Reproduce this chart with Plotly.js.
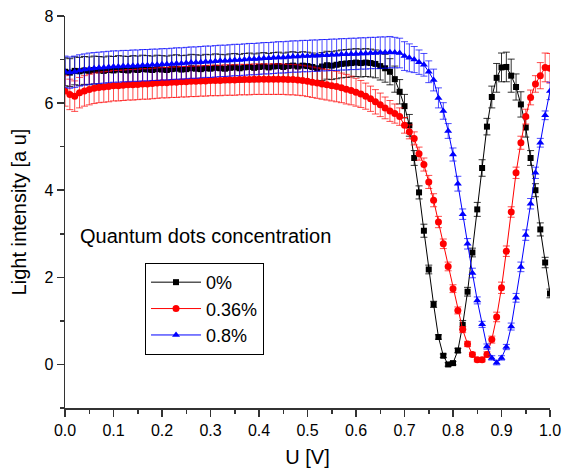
<!DOCTYPE html>
<html>
<head>
<meta charset="utf-8">
<script src="https://cdn.plot.ly/plotly-3.0.1.min.js"></script>
<style>html,body{margin:0;padding:0;background:#fff;}#chart{width:563px;height:472px;}</style>
</head>
<body>
<div id="chart"></div>
<script>
var U = [0.00,0.01,0.02,0.03,0.04,0.05,0.06,0.07,0.08,0.09,0.10,0.11,0.12,0.13,0.14,0.15,0.16,0.17,0.18,0.19,0.20,
0.21,0.22,0.23,0.24,0.25,0.26,0.27,0.28,0.29,0.30,0.31,0.32,0.33,0.34,0.35,0.36,0.37,0.38,0.39,0.40,
0.41,0.42,0.43,0.44,0.45,0.46,0.47,0.48,0.49,0.50,0.51,0.52,0.53,0.54,0.55,0.56,0.57,0.58,0.59,0.60,
0.61,0.62,0.63,0.64,0.65,0.66,0.67,0.68,0.69,0.70,0.71,0.72,0.73,0.74,0.75,0.76,0.77,0.78,0.79,0.80,
0.81,0.82,0.83,0.84,0.85,0.86,0.87,0.88,0.89,0.90,0.91,0.92,0.93,0.94,0.95,0.96,0.97,0.98,0.99,1.00];

var seriesNames = ["0%", "0.36%", "0.8%"];

var black = [6.72,6.70,6.74,6.73,6.75,6.74,6.76,6.75,6.74,6.76,6.75,
6.77,6.76,6.75,6.77,6.76,6.78,6.77,6.76,6.78,6.77,
6.76,6.78,6.79,6.77,6.78,6.80,6.79,6.78,6.80,6.79,
6.81,6.80,6.79,6.81,6.82,6.80,6.82,6.83,6.81,6.83,
6.84,6.82,6.84,6.85,6.83,6.85,6.86,6.84,6.86,6.85,
6.83,6.80,6.84,6.87,6.86,6.88,6.90,6.91,6.92,6.93,
6.92,6.93,6.92,6.90,6.85,6.80,6.72,6.55,6.26,5.93,
5.49,4.74,3.95,3.07,2.18,1.38,0.63,0.20,0.00,0.03,
0.32,0.91,1.67,2.57,3.56,4.51,5.46,6.14,6.58,6.82,
6.83,6.63,6.37,5.97,5.44,4.74,4.00,3.10,2.34,1.63];

var blackErr = [0.32,0.32,0.32,0.32,0.32,0.32,0.32,0.32,0.32,0.32,0.32,
0.32,0.32,0.32,0.32,0.32,0.32,0.32,0.32,0.32,0.32,
0.32,0.32,0.32,0.32,0.32,0.32,0.32,0.32,0.32,0.32,
0.32,0.32,0.32,0.32,0.32,0.32,0.32,0.32,0.32,0.32,
0.32,0.32,0.32,0.32,0.32,0.32,0.32,0.32,0.32,0.32,
0.32,0.32,0.32,0.32,0.32,0.32,0.32,0.32,0.32,0.32,
0.32,0.32,0.32,0.32,0.32,0.32,0.30,0.30,0.28,0.27,
0.25,0.17,0.15,0.15,0.10,0.07,0.05,0.04,0.04,0.04,
0.05,0.10,0.10,0.10,0.16,0.19,0.19,0.25,0.33,0.33,
0.34,0.38,0.30,0.29,0.22,0.17,0.15,0.15,0.12,0.10];

var red = [6.28,6.20,6.16,6.24,6.28,6.31,6.34,6.36,6.37,6.38,6.40,
6.40,6.41,6.42,6.42,6.43,6.44,6.44,6.45,6.46,6.47,
6.47,6.48,6.48,6.49,6.49,6.50,6.50,6.51,6.51,6.52,
6.52,6.52,6.53,6.53,6.53,6.54,6.54,6.54,6.55,6.55,
6.55,6.55,6.55,6.55,6.55,6.54,6.54,6.53,6.52,6.50,
6.48,6.46,6.44,6.42,6.40,6.38,6.35,6.32,6.29,6.25,
6.21,6.16,6.10,6.03,5.96,5.89,5.82,5.76,5.69,5.49,
5.34,5.19,4.84,4.59,4.19,3.77,3.27,2.77,2.25,1.74,
1.24,0.80,0.47,0.23,0.11,0.11,0.23,0.57,1.09,1.76,
2.60,3.50,4.40,5.09,5.69,6.13,6.44,6.63,6.82,6.80];

var redErr = [0.35,0.35,0.35,0.35,0.35,0.35,0.35,0.35,0.35,0.35,0.35,
0.35,0.35,0.35,0.35,0.35,0.35,0.35,0.35,0.35,0.35,
0.35,0.35,0.35,0.35,0.35,0.35,0.35,0.35,0.35,0.35,
0.35,0.35,0.35,0.35,0.35,0.35,0.35,0.35,0.35,0.35,
0.35,0.35,0.35,0.35,0.35,0.35,0.35,0.35,0.35,0.35,
0.35,0.35,0.35,0.35,0.35,0.35,0.34,0.34,0.33,0.32,
0.31,0.30,0.29,0.28,0.27,0.25,0.24,0.22,0.20,0.18,
0.16,0.15,0.15,0.15,0.15,0.15,0.13,0.11,0.10,0.09,
0.08,0.07,0.06,0.05,0.05,0.05,0.06,0.08,0.11,0.13,
0.12,0.12,0.13,0.15,0.17,0.17,0.19,0.30,0.33,0.34];

var blue = [6.72,6.70,6.72,6.75,6.77,6.79,6.80,6.81,6.82,6.83,6.84,
6.84,6.85,6.85,6.86,6.86,6.87,6.87,6.88,6.88,6.89,
6.89,6.90,6.91,6.91,6.92,6.93,6.93,6.94,6.95,6.95,
6.96,6.97,6.97,6.98,6.99,6.99,7.00,7.01,7.01,7.02,
7.03,7.03,7.04,7.05,7.05,7.06,7.07,7.07,7.08,7.08,
7.09,7.09,7.10,7.10,7.11,7.11,7.12,7.12,7.13,7.13,
7.14,7.14,7.15,7.15,7.16,7.16,7.17,7.16,7.15,7.08,
7.04,7.00,6.94,6.88,6.72,6.53,6.12,5.82,5.36,4.82,
4.15,3.45,2.77,2.10,1.47,0.92,0.41,0.15,0.04,0.15,
0.40,0.87,1.53,2.24,2.97,3.69,4.40,5.09,5.72,6.28];

var blueErr = [0.36,0.36,0.36,0.36,0.36,0.36,0.36,0.36,0.36,0.36,0.36,
0.36,0.36,0.36,0.36,0.36,0.36,0.36,0.36,0.36,0.36,
0.36,0.36,0.36,0.36,0.36,0.36,0.36,0.36,0.36,0.36,
0.36,0.36,0.36,0.36,0.36,0.36,0.36,0.36,0.36,0.36,
0.36,0.36,0.36,0.36,0.36,0.36,0.36,0.36,0.36,0.36,
0.36,0.36,0.36,0.36,0.36,0.36,0.36,0.36,0.36,0.36,
0.36,0.36,0.36,0.36,0.36,0.36,0.36,0.35,0.34,0.33,
0.32,0.30,0.28,0.26,0.25,0.25,0.23,0.19,0.17,0.15,
0.17,0.12,0.12,0.11,0.08,0.07,0.06,0.05,0.05,0.05,
0.06,0.08,0.10,0.11,0.12,0.12,0.13,0.10,0.10,0.20];

var yTicks = [0, 2, 4, 6, 8];
var xTicks = [0.0, 0.1, 0.2, 0.3, 0.4, 0.5, 0.6, 0.7, 0.8, 0.9, 1.0];

var FONT = "Liberation Sans, Arial, sans-serif";

function mk(y, err, name, color, errColor, symbol, size) {
  return {
    x: U, y: y, name: name, type: "scatter", mode: "lines+markers",
    line: {color: color, width: 1},
    marker: {color: color, symbol: symbol, size: size},
    error_y: {type: "data", array: err, visible: true, color: errColor, thickness: 1, width: 3.5}
  };
}

var data = [
  mk(black, blackErr, seriesNames[0], "#000000", "rgba(0,0,0,0.8)", "square", 6),
  mk(red, redErr, seriesNames[1], "#ff0000", "rgba(255,0,0,0.7)", "circle", 7),
  mk(blue, blueErr, seriesNames[2], "#0000ff", "rgba(0,0,255,0.7)", "triangle-up", 7)
];

var layout = {
  width: 563, height: 472,
  margin: {l: 65, r: 13, t: 16, b: 64},
  paper_bgcolor: "#fff", plot_bgcolor: "#fff",
  font: {family: FONT, color: "#000", size: 16},
  showlegend: true,
  legend: {
    x: 0.165, y: 0.37, xanchor: "left", yanchor: "top",
    bordercolor: "#000", borderwidth: 1, bgcolor: "rgba(255,255,255,0)",
    font: {family: FONT, size: 18, color: "#000"},
    itemwidth: 50,
    tracegroupgap: 0
  },
  xaxis: {
    range: [0, 1], tickvals: xTicks, ticktext: xTicks.map(function(v){return v.toFixed(1);}),
    showgrid: false, zeroline: false, showline: true, linecolor: "#333", linewidth: 1.5,
    ticks: "outside", ticklen: 7, tickwidth: 1.5, tickcolor: "#333",
    minor: {dtick: 0.05, tick0: 0, ticks: "outside", ticklen: 4, tickwidth: 1.5, tickcolor: "#333", showgrid: false},
    tickfont: {size: 16, family: FONT},
    title: {text: "U [V]", font: {size: 20, family: FONT}, standoff: 12}
  },
  yaxis: {
    range: [-1, 8], tickvals: yTicks,
    showgrid: false, zeroline: false, showline: true, linecolor: "#333", linewidth: 1.5,
    ticks: "outside", ticklen: 7, tickwidth: 1.5, tickcolor: "#333",
    minor: {dtick: 1, tick0: 0, ticks: "outside", ticklen: 4, tickwidth: 1.5, tickcolor: "#333", showgrid: false},
    tickfont: {size: 16, family: FONT},
    title: {text: "Light intensity [a u]", font: {size: 20, family: FONT}, standoff: 12}
  },
  annotations: [{
    xref: "paper", yref: "paper", x: 0.027, y: 0.439, xanchor: "left", yanchor: "middle",
    text: "Quantum dots concentration", showarrow: false,
    font: {size: 20, family: FONT, color: "#000"}
  }]
};

Plotly.newPlot("chart", data, layout, {displayModeBar: false, staticPlot: true});
</script>
</body>
</html>
